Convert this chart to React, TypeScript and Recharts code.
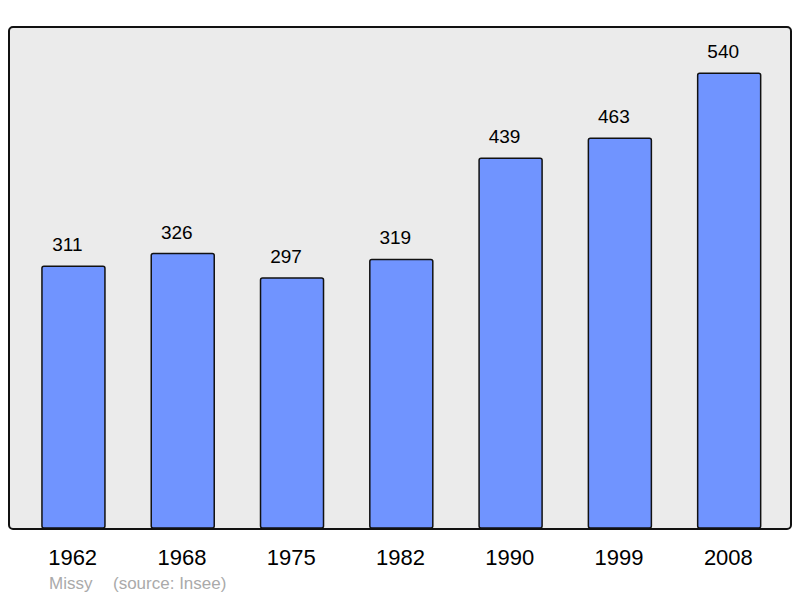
import { BarChart, Bar, XAxis, YAxis, LabelList } from 'recharts';

const years = ['1962', '1968', '1975', '1982', '1990', '1999', '2008'];
const population = [311, 326, 297, 319, 439, 463, 540];

const data = years.map((year, i) => ({ year, population: population[i] }));

const FONT = '"Liberation Sans", Arial, sans-serif';

export default function App() {
  return (
    <div style={{ position: 'absolute', left: 0, top: 0, width: 800, height: 598, background: '#fff' }}>
      <div
        style={{
          position: 'absolute',
          left: 9,
          top: 27,
          width: 781,
          height: 501,
          background: '#ebebeb',
          borderRadius: 4,
        }}
      />
      <div style={{ position: 'absolute', left: 0, top: 0 }}>
        <BarChart
          width={800}
          height={598}
          data={data}
          margin={{ top: 27, right: 16, bottom: 0, left: 19 }}
          barCategoryGap="21%"
        >
          <XAxis
            dataKey="year"
            axisLine={false}
            tickLine={false}
            tick={{ fill: '#000', fontSize: 22, fontFamily: FONT }}
            dy={13}
            dx={-1}
            height={70}
          />
          <YAxis hide domain={[0, 595]} />
          <Bar
            dataKey="population"
            fill="#7094ff"
            stroke="#111"
            strokeWidth={1.5}
            radius={2}
            isAnimationActive={false}
          >
            <LabelList
              dataKey="population"
              position="top"
              offset={15}
              dx={-6}
              style={{ fill: '#000', fontSize: 19, fontFamily: FONT }}
            />
          </Bar>
        </BarChart>
      </div>
      <div
        style={{
          position: 'absolute',
          left: 8,
          top: 26,
          width: 780,
          height: 500,
          border: '2px solid #111',
          borderRadius: 5,
          pointerEvents: 'none',
        }}
      />
      <div
        style={{
          position: 'absolute',
          left: 49,
          top: 574,
          fontFamily: FONT,
          fontSize: 17,
          color: '#aaa',
        }}
      >
        Missy
      </div>
      <div
        style={{
          position: 'absolute',
          left: 113,
          top: 574,
          fontFamily: FONT,
          fontSize: 17,
          color: '#aaa',
        }}
      >
        (source: Insee)
      </div>
    </div>
  );
}
